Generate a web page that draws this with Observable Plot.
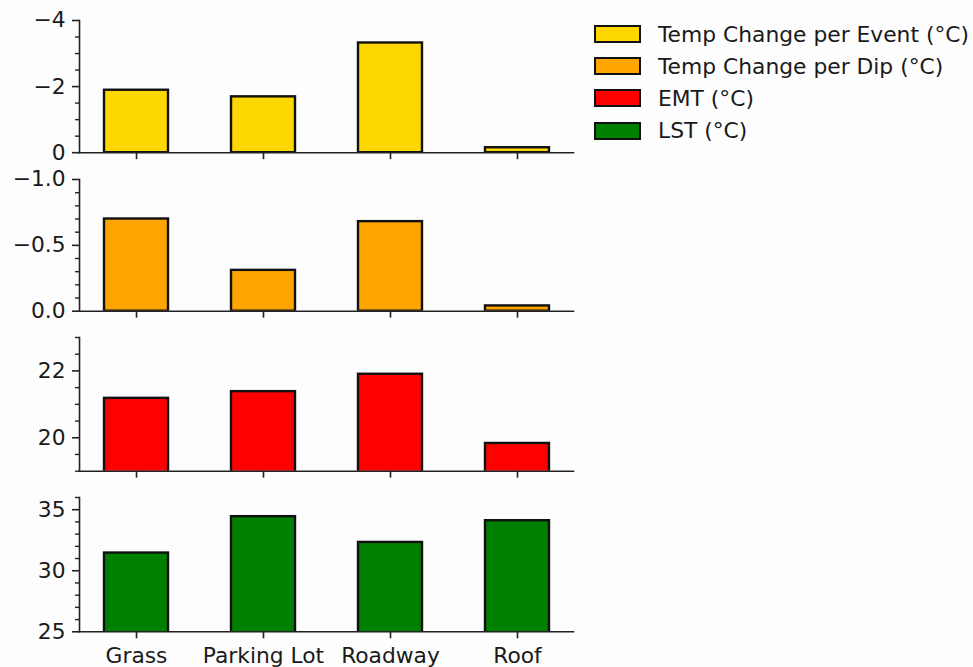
<!DOCTYPE html>
<html>
<head>
<meta charset="utf-8">
<script src="https://cdn.jsdelivr.net/npm/d3@7"></script>
<script src="https://cdn.jsdelivr.net/npm/@observablehq/plot@0.6"></script>
<style>
  html, body { margin: 0; padding: 0; background: #fdfdfd; }
  #root { position: relative; width: 973px; height: 667px; background: #fdfdfd; overflow: hidden;
          font-family: "DejaVu Sans", sans-serif; }
  .panel { position: absolute; left: 0; }
  .panel svg { overflow: visible; background: transparent !important; }
  #legend { position: absolute; left: 594px; top: 18px; font-size: 21.8px; color: #1a1a1a; white-space: nowrap; }
  .item { display: flex; align-items: center; height: 32.2px; }
  .sw { width: 43px; height: 14px; border: 2px solid #111; margin-right: 17px; box-sizing: content-box; }
</style>
</head>
<body>
<div id="root"><div id="legend"></div></div>
<script>
// ---- data ----
const sites = ["Grass", "Parking Lot", "Roadway", "Roof"];
const tempChangePerEvent = [-1.89, -1.69, -3.32, -0.15];
const tempChangePerDip = [-0.70, -0.31, -0.68, -0.04];
const emt = [21.18, 21.38, 21.90, 19.83];
const lst = [31.45, 34.43, 32.32, 34.10];

const seriesNames = ["Temp Change per Event (°C)", "Temp Change per Dip (°C)", "EMT (°C)", "LST (°C)"];
const seriesColors = ["#FFD700", "#FFA500", "#FF0000", "#008000"];

// tick labels / axis settings
const majorTicks1 = [-4, -2, 0];
const minorTicks1 = [-3.5, -3, -2.5, -1.5, -1, -0.5];
const majorTicks2 = [-1.0, -0.5, 0.0];
const minorTicks2 = [-0.9, -0.8, -0.7, -0.6, -0.4, -0.3, -0.2, -0.1];
const majorTicks3 = [20, 22];
const minorTicks3 = [19, 19.5, 20.5, 21, 21.5, 22.5, 23];
const majorTicks4 = [25, 30, 35];
const minorTicks4 = [26, 27, 28, 29, 31, 32, 33, 34, 36];

const panels = [
  {values: tempChangePerEvent, color: seriesColors[0], domain: [0, -4], major: majorTicks1, minor: minorTicks1, fmt: d3.format("d"), top: 19.5, bottom: 151.7},
  {values: tempChangePerDip, color: seriesColors[1], domain: [0, -1], major: majorTicks2, minor: minorTicks2, fmt: d3.format(".1f"), top: 179, bottom: 310.7},
  {values: emt, color: seriesColors[2], domain: [19, 23], major: majorTicks3, minor: minorTicks3, fmt: d3.format("d"), top: 337.3, bottom: 471},
  {values: lst, color: seriesColors[3], domain: [25, 36], major: majorTicks4, minor: minorTicks4, fmt: d3.format("d"), top: 496.7, bottom: 631}
];

const root = document.getElementById("root");
const mt = 14;

panels.forEach((p, i) => {
  const last = i === panels.length - 1;
  const mb = last ? 36 : 12;
  const data = sites.map((s, j) => ({site: s, value: p.values[j]}));
  const chart = Plot.plot({
    width: 580,
    height: mt + (p.bottom - p.top) + mb,
    marginLeft: 79,
    marginRight: 7,
    marginTop: mt,
    marginBottom: mb,
    style: {fontSize: "21.8px", fontFamily: "DejaVu Sans, sans-serif", color: "#1a1a1a", background: "transparent", overflow: "visible"},
    x: {domain: sites, paddingInner: 0.5, paddingOuter: 0.19, label: null},
    y: {domain: p.domain, label: null},
    marks: [
      Plot.barY(data, {x: "site", y1: 0, y2: "value", fill: p.color, stroke: "#111", strokeWidth: 2.4, clip: true}),
      Plot.axisY({ticks: p.minor, tickSize: 4, text: null, stroke: "#222", strokeWidth: 1.4, label: null}),
      Plot.axisY({ticks: p.major, tickSize: 7, tickPadding: 7, tickFormat: p.fmt, stroke: "#222", strokeWidth: 1.6, fill: "#1a1a1a", label: null}),
      Plot.axisX({tickSize: 7, tickPadding: 9, text: last ? undefined : null, stroke: "#222", strokeWidth: 1.6, fill: "#1a1a1a", label: null}),
      Plot.frame({anchor: "left", stroke: "#222", strokeWidth: 1.6}),
      Plot.frame({anchor: "bottom", stroke: "#222", strokeWidth: 1.6})
    ]
  });
  const wrap = document.createElement("div");
  wrap.className = "panel";
  wrap.style.top = (p.top - mt) + "px";
  wrap.appendChild(chart);
  root.appendChild(wrap);
});

// legend
const legend = document.getElementById("legend");
seriesNames.forEach((name, i) => {
  const item = document.createElement("div");
  item.className = "item";
  const sw = document.createElement("span");
  sw.className = "sw";
  sw.style.background = seriesColors[i];
  const label = document.createElement("span");
  label.textContent = name;
  item.appendChild(sw);
  item.appendChild(label);
  legend.appendChild(item);
});
</script>
</body>
</html>
